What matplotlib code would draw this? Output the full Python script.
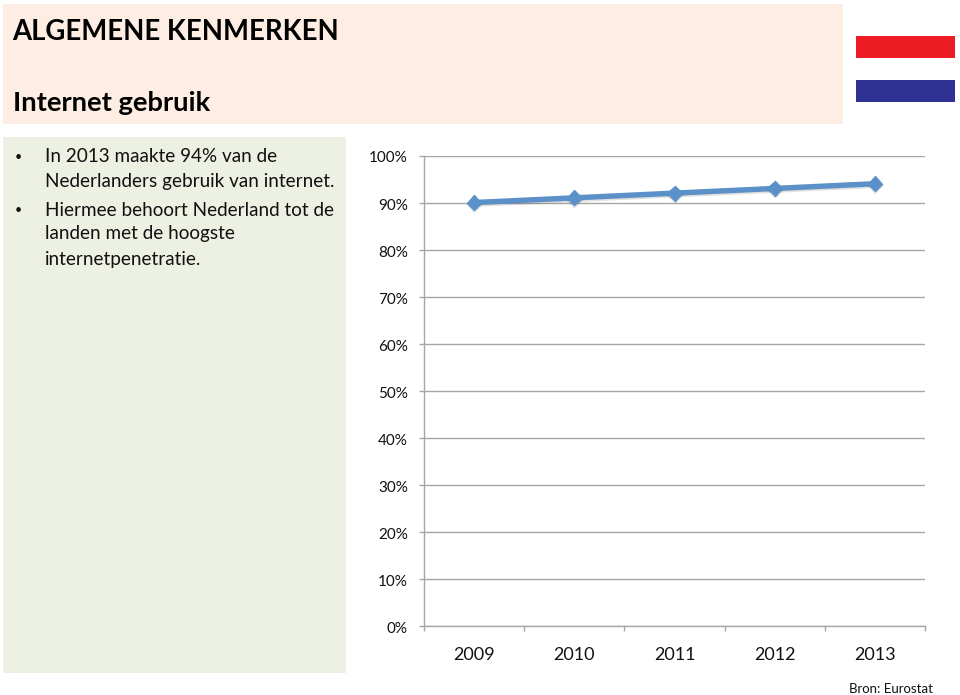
import matplotlib
matplotlib.use("Agg")
import matplotlib.pyplot as plt
from matplotlib.patches import Rectangle
from matplotlib.transforms import ScaledTranslation
import matplotlib.patheffects as pe

years = ["2009", "2010", "2011", "2012", "2013"]
usage = [90, 91, 92, 93, 94]
y_ticks = [0, 10, 20, 30, 40, 50, 60, 70, 80, 90, 100]
title = "ALGEMENE KENMERKEN"
subtitle = "Internet gebruik"
bullets = [
    ("In 2013 maakte 94% van de", 157, True),
    ("Nederlanders gebruik van internet.", 181, False),
    ("Hiermee behoort Nederland tot de", 210, True),
    ("landen met de hoogste", 234, False),
    ("internetpenetratie.", 259, False),
]
source = "Bron: Eurostat"

W, H = 960, 695
plt.rcParams["font.family"] = ["Lato", "DejaVu Sans"]
fig = plt.figure(figsize=(W / 100, H / 100), dpi=100, facecolor="white")
INK = "#111111"


def fx(x):
    return x / W


def fy(y):
    return 1 - y / H


def box(x0, y0, x1, y1, color):
    fig.add_artist(Rectangle((fx(x0), fy(y1)), (x1 - x0) / W, (y1 - y0) / H,
                             transform=fig.transFigure, facecolor=color,
                             edgecolor="none", zorder=0))


box(3, 4, 843, 124, "#fdede2")
box(3, 137, 346, 673, "#edf1e4")
box(856, 36, 955, 58, "#ed1c24")
box(856, 80, 955, 102, "#2e3192")

fig.text(fx(12.5), fy(32), title, fontsize=19.8, fontweight="bold", color="black", va="center")
fig.text(fx(13), fy(103), subtitle, fontsize=19.7, fontweight="bold", color="black", va="center")
for text, y, has_bullet in bullets:
    fig.text(fx(45), fy(y), text, fontsize=13.55, color=INK, va="center")
    if has_bullet:
        fig.text(fx(15), fy(y), "\u2022", fontsize=9, color=INK, va="center")
fig.text(fx(849), fy(689), source, fontsize=9.55, color=INK, va="center")

ax = fig.add_axes([fx(424), fy(626), (925 - 424) / W, (626 - 155.5) / H])
ax.set_facecolor("none")
positions = list(range(len(years)))
ax.set_xlim(-0.5, len(years) - 0.5)
ax.set_ylim(0, 100)
GREY = "#a6a6a6"
ax.set_yticks(y_ticks)
ax.set_yticklabels([f"{v}%" for v in y_ticks], fontsize=11, color=INK)
ax.set_xticks([p - 0.5 for p in range(len(years) + 1)])
ax.set_xticklabels([])
ax.set_xticks(positions, minor=True)
ax.set_xticklabels(years, minor=True, fontsize=13, color=INK)
ax.tick_params(axis="x", which="major", length=3.6, width=1.0, color=GREY)
ax.tick_params(axis="x", which="minor", length=0, pad=15)
ax.tick_params(axis="y", length=3.6, width=1.0, color=GREY, pad=8)
for label in ax.get_yticklabels():
    label.set_transform(label.get_transform() + ScaledTranslation(0, -0.015, fig.dpi_scale_trans))
ax.grid(axis="y", color=GREY, linewidth=1.0)
ax.set_axisbelow(True)
for side in ("top", "right"):
    ax.spines[side].set_visible(False)
for side in ("left", "bottom"):
    ax.spines[side].set_color(GREY)
    ax.spines[side].set_linewidth(1.0)

ax.plot(positions, usage, color="#5b90c8", linewidth=3.9, marker="D", markersize=7.5,
        markeredgecolor="#5b90c8", clip_on=False, zorder=3,
        path_effects=[pe.SimpleLineShadow(offset=(0, -1.2), alpha=0.12, shadow_color="black"),
                      pe.Normal()])

fig.savefig("out.png", dpi=100, facecolor="white")
